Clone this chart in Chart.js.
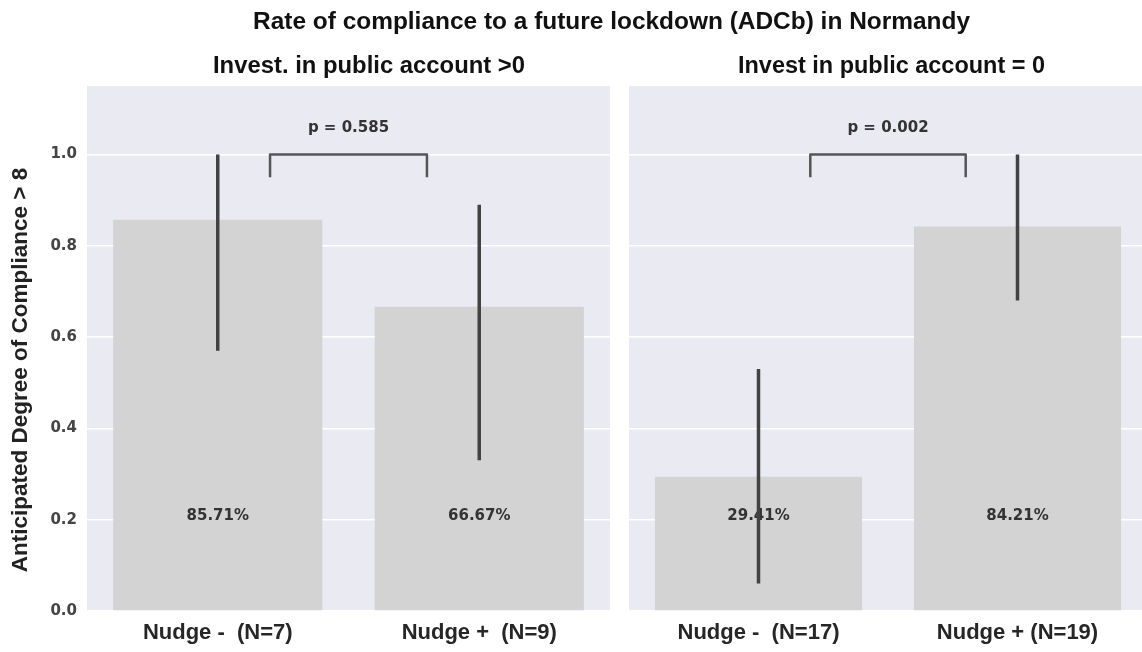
<!DOCTYPE html>
<html><head><meta charset="utf-8">
<script src="https://cdn.jsdelivr.net/npm/chart.js@4.4.1/dist/chart.umd.min.js"></script>
<style>
html,body{margin:0;padding:0;background:#fff;overflow:hidden;width:1142px;height:652px;}
canvas{position:absolute;left:0;top:0;}
</style></head><body>
<canvas id="leftPanel" width="1147" height="652"></canvas>
<canvas id="rightPanel" width="1147" height="652"></canvas>
<script>
// ---- data ----
const mainTitle = "Rate of compliance to a future lockdown (ADCb) in Normandy";
const yAxisTitle = "Anticipated Degree of Compliance > 8";
const yTicks = [0, 0.2, 0.4, 0.6, 0.8, 1.0];
const panelTitles = ["Invest. in public account >0", "Invest in public account = 0"];
const leftCategories = ["Nudge -  (N=7)", "Nudge +  (N=9)"];
const rightCategories = ["Nudge -  (N=17)", "Nudge + (N=19)"];
const leftValues = [0.8571, 0.6667];
const rightValues = [0.2941, 0.8421];
const leftCiLow = [0.57, 0.33];
const leftCiHigh = [1.0, 0.89];
const rightCiLow = [0.06, 0.68];
const rightCiHigh = [0.53, 1.0];
const leftPLabel = "p = 0.585";
const rightPLabel = "p = 0.002";

// ---- style constants ----
const BG = '#EAEAF2';
const BAR = '#D3D3D3';
const NARROW = "'Liberation Sans Narrow','Arial Narrow','Liberation Sans',Arial,sans-serif";
const SANS = "'Liberation Sans',Arial,sans-serif";
const DEJA = "'DejaVu Sans',sans-serif";

function drawFit(ctx, text, cx, by, font, targetW, color) {
  ctx.save();
  ctx.font = font;
  const w = ctx.measureText(text).width;
  ctx.translate(cx, by);
  ctx.scale(targetW / w, 1);
  ctx.textAlign = 'center';
  ctx.textBaseline = 'alphabetic';
  ctx.fillStyle = color;
  ctx.fillText(text, 0, 0);
  ctx.restore();
}

const bgPlugin = {
  id: 'bgPlugin',
  beforeDraw(chart) {
    const {ctx, chartArea: a} = chart;
    ctx.save();
    ctx.fillStyle = BG;
    ctx.fillRect(a.left, a.top, a.right - a.left, a.bottom - a.top);
    ctx.restore();
  }
};

function overlayPlugin(values, lo, hi, pLabel, panelTitle, titleCx, titleW, isLeft) {
  return {
    id: 'overlay',
    afterDatasetsDraw(chart) {
      const {ctx, scales: {x, y}} = chart;
      ctx.save();
      // percent labels
      ctx.font = "bold 15px " + DEJA;
      ctx.fillStyle = '#333';
      ctx.textAlign = 'center';
      ctx.textBaseline = 'alphabetic';
      values.forEach((v, i) => {
        ctx.fillText((v * 100).toFixed(2) + '%', x.getPixelForValue(i), y.getPixelForValue(0.2));
      });
      // error bars
      ctx.strokeStyle = '#424242';
      ctx.lineWidth = 3.5;
      ctx.lineCap = 'butt';
      lo.forEach((l, i) => {
        const px = x.getPixelForValue(i);
        ctx.beginPath();
        ctx.moveTo(px, y.getPixelForValue(l));
        ctx.lineTo(px, y.getPixelForValue(hi[i]));
        ctx.stroke();
      });
      // bracket
      const x1 = x.getPixelForValue(0.2), x2 = x.getPixelForValue(0.8);
      const yt = y.getPixelForValue(1.0), yb = y.getPixelForValue(0.95);
      ctx.strokeStyle = '#555';
      ctx.lineWidth = 2.5;
      ctx.lineJoin = 'round';
      ctx.beginPath();
      ctx.moveTo(x1, yb); ctx.lineTo(x1, yt); ctx.lineTo(x2, yt); ctx.lineTo(x2, yb);
      ctx.stroke();
      ctx.fillStyle = '#333';
      ctx.font = "bold 15px " + DEJA;
      ctx.fillText(pLabel, x.getPixelForValue(0.5), y.getPixelForValue(1.05));
      ctx.restore();

      // titles
      drawFit(ctx, panelTitle, titleCx, 73, "bold 23px " + NARROW, titleW, '#111');
      if (isLeft) {
        ctx.save();
        ctx.translate(21, 370);
        ctx.rotate(-Math.PI / 2);
        ctx.font = "bold 22.5px " + SANS;
        ctx.fillStyle = '#222';
        ctx.textAlign = 'center';
        ctx.textBaseline = 'middle';
        ctx.fillText(yAxisTitle, 0, 0);
        ctx.restore();
      } else {
        drawFit(ctx, mainTitle, 611.5, 28.5, "bold 23px " + NARROW, 717, '#111');
      }
    }
  };
}

function makeChart(id, cats, vals, lo, hi, pLabel, panelTitle, titleCx, titleW, isLeft) {
  return new Chart(document.getElementById(id), {
    type: 'bar',
    data: {
      labels: cats,
      datasets: [{data: vals, backgroundColor: BAR, borderWidth: 0, barPercentage: 0.8, categoryPercentage: 1.0}]
    },
    options: {
      responsive: false,
      animation: false,
      events: [],
      layout: {padding: isLeft ? {left: 0, right: 1147 - 610, top: 86, bottom: 0}
                               : {left: 629, right: 0, top: 86, bottom: 0}},
      plugins: {legend: {display: false}, tooltip: {enabled: false}, title: {display: false}},
      scales: {
        x: {
          grid: {display: false, drawTicks: false},
          border: {display: false},
          ticks: {color: '#262626', font: {family: SANS, size: 22, weight: 'bold'}, padding: 9, maxRotation: 0, autoSkip: false},
          afterFit(s) { s.height = 41; }
        },
        y: {
          min: 0, max: 1.15,
          grid: {color: '#ffffff', lineWidth: 1.5, drawTicks: false},
          border: {display: false},
          afterBuildTicks(s) { s.ticks = yTicks.map(v => ({value: v})); },
          ticks: {display: isLeft, color: '#444', font: {family: DEJA, size: 15, weight: 'bold'}, padding: 10,
                  callback: v => Number(v).toFixed(1)},
          afterFit(s) { s.width = isLeft ? 87 : 0; }
        }
      }
    },
    plugins: [bgPlugin, overlayPlugin(vals, lo, hi, pLabel, panelTitle, titleCx, titleW, isLeft)]
  });
}

makeChart('leftPanel', leftCategories, leftValues, leftCiLow, leftCiHigh, leftPLabel, panelTitles[0], 369, 312, true);
makeChart('rightPanel', rightCategories, rightValues, rightCiLow, rightCiHigh, rightPLabel, panelTitles[1], 891.5, 307, false);
</script>
</body></html>
